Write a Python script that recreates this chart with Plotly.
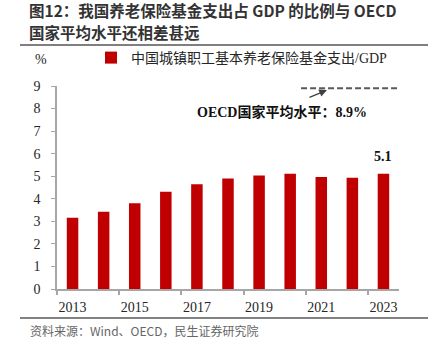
import plotly.graph_objects as go

# ---------------- data ----------------
years = [2013, 2014, 2015, 2016, 2017, 2018, 2019, 2020, 2021, 2022, 2023]
ratio = [3.16, 3.43, 3.80, 4.31, 4.64, 4.90, 5.03, 5.11, 4.96, 4.93, 5.11]
series_name = "中国城镇职工基本养老保险基金支出/GDP"
oecd_avg = 8.9
oecd_span = [2020.35, 2023.55]
label_years = [2013, 2015, 2017, 2019, 2021, 2023]
y_ticks = [0, 1, 2, 3, 4, 5, 6, 7, 8, 9]

title1 = "图12：我国养老保险基金支出占 GDP 的比例与 OECD"
title2 = "国家平均水平还相差甚远"
source = "资料来源：Wind、OECD，民生证券研究院"

W, H = 432, 344
L, R, T, B = 57, 399, 86, 289


def px(x):
    return (x - L) / (R - L)


def py(y):
    return (B - y) / (B - T)


serif = "Liberation Serif, Times New Roman, Noto Sans CJK SC, serif"
sans = "Noto Sans CJK SC, Microsoft YaHei, sans-serif"

fig = go.Figure()
fig.add_trace(go.Bar(
    x=years, y=ratio, name=series_name, width=0.37,
    marker=dict(color="#C00000", line=dict(width=0)),
    showlegend=True,
))

# OECD average dashed line
fig.add_shape(type="line", xref="x", yref="y",
              x0=oecd_span[0], x1=oecd_span[1], y0=oecd_avg, y1=oecd_avg,
              line=dict(color="#595959", width=2, dash="6px,3px"))

annotations = [
    dict(text=title1, xref="paper", yref="paper",
         x=px(28), y=py(10), xanchor="left", yanchor="middle",
         showarrow=False, borderpad=0,
         font=dict(family=sans, size=15.5, color="#333333", weight="bold")),
    dict(text=title2, xref="paper", yref="paper",
         x=px(28), y=py(32.5), xanchor="left", yanchor="middle",
         showarrow=False, borderpad=0,
         font=dict(family=sans, size=15.5, color="#333333", weight="bold")),
    dict(text=source, xref="paper", yref="paper", x=px(28), y=py(330),
         xanchor="left", yanchor="middle", showarrow=False,
         font=dict(family=sans, size=12, color="#666666")),
    dict(text="%", xref="paper", yref="paper", x=px(41), y=py(60),
         xanchor="center", yanchor="middle", showarrow=False,
         font=dict(family=serif, size=14, color="#262626")),
    dict(text=f"OECD国家平均水平：{oecd_avg}%", xref="paper", yref="paper",
         x=px(282), y=py(112), xanchor="center", yanchor="middle", showarrow=False,
         font=dict(family=serif, size=14, color="#111111", weight="bold")),
    dict(text="", xref="paper", yref="paper", x=px(327), y=py(90),
         showarrow=True, ax=-19, ay=8, arrowhead=2, arrowsize=1.2,
         arrowwidth=1.3, arrowcolor="#404040"),
    dict(text=f"{ratio[-1]:.1f}", xref="x", yref="y", x=years[-1], y=ratio[-1],
         xanchor="center", yanchor="bottom", yshift=8, showarrow=False,
         font=dict(family=serif, size=14, color="#111111", weight="bold")),
]

shapes_extra = [
    dict(type="line", xref="paper", yref="paper", x0=px(20), x1=px(428),
         y0=py(45), y1=py(45), line=dict(color="#7f7f7f", width=2)),
    dict(type="line", xref="paper", yref="paper", x0=px(20), x1=px(428),
         y0=py(318), y1=py(318), line=dict(color="#595959", width=1.5)),
]
for s in shapes_extra:
    fig.add_shape(**s)

fig.update_layout(
    width=W, height=H,
    margin=dict(l=L, r=W - R, t=T, b=H - B, pad=0),
    paper_bgcolor="white", plot_bgcolor="white",
    annotations=annotations,
    showlegend=True,
    legend=dict(x=px(91), y=py(58), xanchor="left", yanchor="middle",
                orientation="h", itemwidth=30,
                font=dict(family=serif, size=14, color="#262626"),
                bgcolor="rgba(0,0,0,0)"),
    bargap=0.6,
    xaxis=dict(
        range=[2012.5, 2023.5], tickmode="array", tickvals=label_years,
        ticktext=[str(v) for v in label_years], ticks="",
        showline=True, linecolor="#a6a6a6", linewidth=1.5,
        showgrid=False, zeroline=False,
        tickfont=dict(family=serif, size=14, color="#262626"),
        ticklabelstandoff=4,
        minor=dict(ticks="outside", tickmode="linear", tick0=2012.5, dtick=2,
                   ticklen=4, tickcolor="#a6a6a6", tickwidth=1.5, showgrid=False),
    ),
    yaxis=dict(
        range=[0, 9], tickmode="array", tickvals=y_ticks,
        ticks="outside", ticklen=4, tickcolor="#a6a6a6", tickwidth=1,
        showline=True, linecolor="#a6a6a6", linewidth=1.5,
        showgrid=False, zeroline=False,
        tickfont=dict(family=serif, size=14, color="#262626"),
        ticklabelstandoff=8,
    ),
)

fig.write_html("out.html")
